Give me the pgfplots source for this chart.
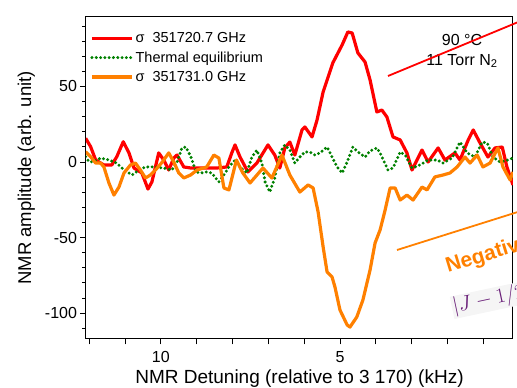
\documentclass[border=0pt]{standalone}
\usepackage{fontspec}
\setmainfont{Liberation Sans}
\usepackage{pgfplots}
\pgfplotsset{compat=1.18}
\definecolor{cred}{RGB}{255,0,0}
\definecolor{cgreen}{RGB}{0,128,0}
\definecolor{corange}{RGB}{255,128,0}
\definecolor{cpurple}{RGB}{105,30,120}
\begin{document}
\begin{tikzpicture}
\begin{axis}[at={(86pt,49pt)}, anchor=south west, scale only axis,
  width=427pt, height=322pt,
  x dir=reverse, xmin=0.17, xmax=12.09, ymin=-117.2, ymax=96,
  xtick={1,...,12}, xticklabels={,,,,5,,,,,10,,},
  ytick={-100,-50,0,50},
  minor ytick={-110,-90,-80,-70,-60,-40,-30,-20,-10,10,20,30,40,60,70,80,90},
  tick pos=left, tick align=outside,
  major tick length=5.5pt, minor tick length=3.5pt,
  every tick/.style={black, line width=0.8pt},
  axis line style={line width=1pt},
  /pgf/number format/assume math mode=true,
  ticklabel style={font=\fontsize{16}{18}\selectfont},
  xticklabel style={yshift=-3pt},
  xlabel={NMR Detuning (relative to 3 170) (kHz)},
  ylabel={NMR amplitude (arb. unit)},
  xlabel style={font=\fontsize{19}{21}\selectfont, yshift=-1pt},
  ylabel style={font=\fontsize{18.5}{21}\selectfont, yshift=3pt},
  legend style={at={(0.005,0.965)}, anchor=north west, draw=none, fill=none,
    font=\fontsize{14.5}{17}\selectfont, row sep=3.5pt, inner sep=2pt},
  legend cell align=left,
  legend image code/.code={\draw[#1] (0pt,0pt) -- (40pt,0pt);},
]
\addplot[cred, line width=3.2pt, line join=round] coordinates {
(12.10,15.7)(11.96,10.1)(11.82,1.3)(11.59,-2.0)(11.37,-2.0)(11.23,3.5)(11.05,13.4)
(10.89,6.0)(10.75,-4.0)(10.53,-7.3)(10.36,-17.9)(10.25,-13.2)(10.06,6.0)(9.92,1.3)
(9.78,-5.3)(9.64,2.6)(9.55,4.6)(9.36,-3.3)(9.16,-4.0)(8.88,-4.0)(8.44,-4.0)(8.16,-3.3)
(8.02,6.0)(7.93,11.3)(7.79,3.3)(7.57,-6.6)(7.32,-0.7)(7.01,11.3)(6.82,4.6)(6.68,-4.0)
(6.54,9.3)(6.40,13.2)(6.26,4.6)(6.06,21.2)(5.98,23.2)(5.78,16.6)(5.64,27.8)(5.47,46.4)
(5.20,65.6)(4.94,77.5)(4.78,86.1)(4.66,85.4)(4.50,72.2)(4.30,66.2)(4.16,54.3)(3.97,33.1)
(3.83,34.4)(3.69,29.8)(3.52,16.6)(3.32,14.6)(3.13,6.0)(2.99,-5.3)(2.71,7.9)(2.54,0)
(2.26,9.3)(2.07,1.3)(1.79,6.0)(1.65,1.3)(1.42,14.6)(1.28,21.2)(1.09,12.6)(0.87,3.3)
(0.67,9.3)(0.47,9.9)(0.34,-3.3)(0.17,-15.2)};
\addlegendentry{σ\ \ 351720.7 GHz}
\addplot[cgreen, line width=3.3pt, line cap=round, dash pattern=on 0pt off 4.3pt] coordinates {
(12.10,3.5)(12.01,0.2)(11.87,0.2)(11.68,2.6)(11.45,1.3)(11.23,-0.7)(11.03,-5.3)(10.80,-8.6)
(10.61,-5.3)(10.43,-3.3)(10.20,-3.3)(9.92,-4.0)(9.69,-5.3)(9.55,0)(9.41,9.3)(9.30,9.9)
(9.16,3.3)(9.02,-6.6)(8.88,-7.3)(8.72,-6.6)(8.58,-7.3)(8.38,-13.2)(8.24,-8.6)(8.10,-3.3)
(7.93,1.3)(7.79,-3.3)(7.60,-7.3)(7.46,3.3)(7.32,7.9)(7.18,-0.7)(7.09,-13.2)(6.96,-19.9)
(6.82,-10.6)(6.68,6.0)(6.54,11.3)(6.40,7.9)(6.26,-0.7)(6.12,3.3)(5.98,6.6)(5.84,6.6)
(5.70,4.6)(5.56,6.0)(5.36,9.9)(5.22,3.3)(5.08,-3.3)(4.94,-7.3)(4.80,0)(4.64,9.9)
(4.50,6.6)(4.30,3.3)(4.16,7.3)(3.97,9.3)(3.88,6.0)(3.66,-5.3)(3.52,-4.0)(3.32,6.6)
(3.18,4.6)(2.99,-4.0)(2.77,-2.0)(2.54,1.3)(2.29,1.3)(2.12,-0.7)(1.87,2.6)(1.65,13.2)
(1.45,6.0)(1.23,3.3)(1.03,13.2)(0.89,12.6)(0.73,3.3)(0.53,0)(0.31,1.3)(0.12,3.3)};
\addlegendentry{Thermal equilibrium}
\addplot[corange, line width=3.2pt, line join=round] coordinates {
(12.10,6.8)(11.96,3.5)(11.82,-0.7)(11.68,-0.7)(11.59,-3.3)(11.45,-13.9)(11.31,-21.9)
(11.17,-16.6)(11.03,-7.3)(10.85,-2.0)(10.71,-0.7)(10.57,-5.3)(10.43,-10.6)(10.29,-8.6)
(10.15,-5.3)(9.96,0)(9.78,6.0)(9.64,0)(9.50,-7.3)(9.36,-10.6)(9.17,-8.6)(8.99,-5.3)
(8.72,-3.3)(8.52,4.6)(8.38,2.6)(8.24,-17.2)(8.10,-18.5)(7.89,1.3)(7.71,-7.3)(7.51,-13.9)
(7.15,-4.0)(6.90,-10.6)(6.62,4.6)(6.40,-8.6)(6.12,-19.9)(5.89,-15.2)(5.75,-17.2)
(5.61,-33.1)(5.47,-56.3)(5.36,-72.8)(5.22,-76.2)(5.14,-82.8)(5.00,-98.0)(4.80,-107.9)
(4.72,-109.3)(4.53,-102.6)(4.36,-91.4)(4.16,-71.5)(4.02,-53.6)(3.88,-45.0)(3.74,-31.8)
(3.60,-17.2)(3.46,-17.2)(3.32,-25.2)(3.13,-21.9)(2.96,-25.2)(2.71,-16.6)(2.57,-18.5)
(2.35,-9.9)(2.12,-8.6)(1.93,-7.3)(1.73,-3.3)(1.51,3.3)(1.37,-0.7)(1.17,4.6)(1.01,-3.3)
(0.81,-0.7)(0.59,9.3)(0.45,-3.3)(0.25,-11.9)(0.17,-6.6)};
\addlegendentry{σ\ \ 351731.0 GHz}
\end{axis}
% annotations (picture coordinates, 1pt = 1px)
\node[font=\fontsize{16}{18}\selectfont] at (462pt,348pt) {90 °C};
\node[font=\fontsize{16}{18}\selectfont] at (462pt,327pt) {11 Torr N\textsubscript{2}};
\draw[cred, line width=1.8pt] (388pt,312pt) -- (540pt,375pt);
\draw[corange, line width=1.8pt] (397pt,138pt) -- (540pt,183pt);
\node[corange, font=\bfseries\fontsize{21}{23}\selectfont, rotate=17, anchor=base west, inner sep=0pt] at (448pt,115pt) {Negative};
\node[cpurple, fill=black!4, font=\fontsize{21}{23}\selectfont, rotate=12, anchor=base west, inner sep=1pt] at (453pt,75pt) {$|J-1/2|$};
\pgfresetboundingbox
\useasboundingbox (0pt,0pt) rectangle (517pt,388pt);
\end{tikzpicture}
\end{document}
